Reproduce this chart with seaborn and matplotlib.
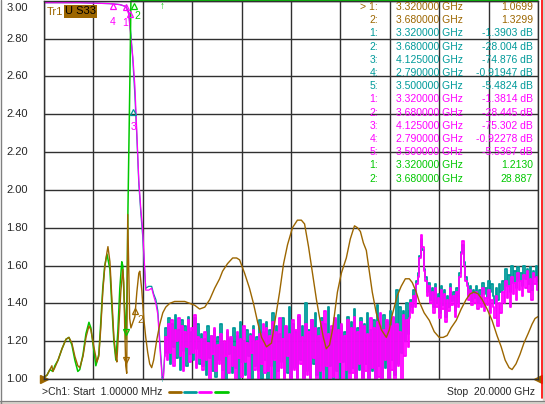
import numpy as np
import matplotlib.pyplot as plt
import seaborn as sns
from matplotlib.lines import Line2D
from matplotlib.patches import Rectangle

# ---- trace data (frequency in GHz, value on the 1.00..3.00 display scale) ----
brown_f = [0.001, 0.12, 0.24, 0.32, 0.36, 0.44, 0.57, 0.73, 0.89, 1.01, 1.13, 1.25, 1.37, 1.45,
           1.58, 1.70, 1.82, 1.90, 2.02, 2.14, 2.22, 2.30, 2.38, 2.46, 2.55, 2.59, 2.67, 2.75,
           2.83, 2.91, 2.95, 3.03, 3.11, 3.19, 3.23, 3.27, 3.31, 3.35, 3.39, 3.43, 3.47, 3.52,
           3.60, 3.68, 3.76, 3.84, 3.88, 3.96, 4.04, 4.12, 4.20, 4.28, 4.36, 4.44, 4.57, 4.69,
           4.81, 4.93, 5.09, 5.29, 5.49, 5.70, 5.90, 6.10, 6.30, 6.51, 6.71, 6.91, 7.11, 7.23,
           7.43, 7.64, 7.80, 7.92, 8.12, 8.32, 8.48, 8.65, 8.81, 9.01, 9.21, 9.37, 9.54, 9.70,
           9.86, 10.06, 10.26, 10.42, 10.55, 10.71, 10.87, 11.03, 11.15, 11.31, 11.43, 11.56,
           11.68, 11.80, 11.88, 12.04, 12.24, 12.40, 12.57, 12.69, 12.81, 12.93, 13.05, 13.17,
           13.29, 13.45, 13.66, 13.86, 13.98, 14.10, 14.30, 14.46, 14.63, 14.79, 14.91, 15.07,
           15.19, 15.39, 15.60, 15.80, 16.00, 16.16, 16.32, 16.48, 16.69, 16.89, 17.09, 17.25,
           17.41, 17.58, 17.74, 17.94, 18.14, 18.34, 18.51, 18.67, 18.83, 18.95, 19.11, 19.27,
           19.43, 19.60, 19.76, 19.88, 20.00]
brown_v = [1.01, 1.02, 1.05, 1.07, 1.04, 1.06, 1.10, 1.16, 1.21, 1.22, 1.19, 1.12, 1.07, 1.06,
           1.12, 1.22, 1.28, 1.26, 1.17, 1.09, 1.12, 1.27, 1.46, 1.59, 1.67, 1.70, 1.62, 1.42,
           1.22, 1.12, 1.09, 1.27, 1.46, 1.58, 1.51, 1.27, 1.07, 1.03, 1.87, 1.60, 1.32, 1.27,
           1.30, 1.33, 1.46, 1.56, 1.57, 1.47, 1.32, 1.22, 1.14, 1.08, 1.06, 1.10, 1.21, 1.29,
           1.35, 1.38, 1.40, 1.41, 1.41, 1.41, 1.40, 1.39, 1.37, 1.38, 1.42, 1.48, 1.53, 1.57,
           1.61, 1.64, 1.64, 1.63, 1.56, 1.48, 1.40, 1.30, 1.22, 1.17, 1.19, 1.32, 1.46, 1.61,
           1.71, 1.80, 1.84, 1.84, 1.82, 1.70, 1.56, 1.42, 1.33, 1.22, 1.16, 1.18,
           1.26, 1.38, 1.46, 1.56, 1.64, 1.74, 1.81, 1.80, 1.78, 1.72, 1.68, 1.57,
           1.46, 1.35, 1.26, 1.22, 1.26, 1.34, 1.44, 1.49, 1.53, 1.53, 1.51, 1.46,
           1.41, 1.35, 1.31, 1.25, 1.22, 1.22, 1.23, 1.27, 1.31, 1.37, 1.42, 1.45,
           1.46, 1.45, 1.42, 1.37, 1.31, 1.23, 1.17, 1.10, 1.06, 1.05, 1.08, 1.13,
           1.19, 1.24, 1.29, 1.32, 1.33]

green_f = [0.001, 0.12, 0.24, 0.36, 0.44, 0.57, 0.73, 0.89, 1.01, 1.13, 1.25, 1.37, 1.45, 1.58,
           1.70, 1.82, 1.90, 2.02, 2.10, 2.22, 2.30, 2.38, 2.46, 2.55, 2.67, 2.75, 2.83, 2.91,
           2.99, 3.07, 3.15, 3.19, 3.27, 3.32, 3.36, 3.40, 3.44, 3.48, 3.52, 3.68, 4.0, 6.0,
           10.0, 15.0, 20.0]
green_v = [1.01, 1.02, 1.05, 1.04, 1.07, 1.10, 1.16, 1.21, 1.22, 1.18, 1.10, 1.04, 1.05, 1.13,
           1.24, 1.30, 1.27, 1.15, 1.07, 1.13, 1.30, 1.48, 1.60, 1.66, 1.58, 1.38, 1.20, 1.10,
           1.25, 1.48, 1.62, 1.60, 1.35, 1.21, 1.45, 1.90, 2.25, 2.60, 3.50, 28.887, 40.0, 60.0,
           80.0, 90.0, 95.0]

# smooth head of the two transmission traces
mag_f = [0.001, 1.45, 2.67, 3.07, 3.31, 3.43, 3.52, 3.60, 3.68, 3.76, 3.84, 3.92, 4.00, 4.08,
         4.12, 4.24, 4.36, 4.44, 4.53, 4.61, 4.69, 4.77, 4.81, 4.89]
mag_v = [2.99, 2.99, 2.985, 2.98, 2.97, 2.93, 2.80, 2.70, 2.55, 2.30, 2.05, 1.90, 1.78, 1.58,
         1.47, 1.47, 1.48, 1.44, 1.40, 1.34, 1.17, 1.03, 0.95, 1.12]
teal_f = [0.001, 1.45, 2.67, 3.07, 3.31, 3.43, 3.52, 3.60, 3.68, 3.76, 3.84, 3.92, 4.00, 4.08,
          4.12, 4.24, 4.36, 4.44, 4.53, 4.61, 4.69, 4.77, 4.81, 4.89]
teal_v = [2.99, 2.99, 2.985, 2.98, 2.97, 2.94, 2.82, 2.68, 2.50, 2.28, 2.03, 1.88, 1.75, 1.56,
          1.48, 1.49, 1.49, 1.45, 1.42, 1.36, 1.20, 1.05, 0.96, 1.14]

# noisy part 4.93..14.75 GHz and 14.79..20 GHz
mag_noise_mid = [1.22, 1.10, 1.29, 1.14, 1.31, 1.07, 1.26, 1.20, 1.32, 1.12, 1.28, 1.04, 1.25, 1.17,
                 1.31, 1.09, 1.27, 1.14, 1.34, 1.06, 1.22, 1.11,
                 1.21, 1.05, 1.25, 1.10, 1.19, 0.99, 1.23, 1.13, 1.27, 1.04, 1.18, 1.08, 1.24, 0.98,
                 1.20, 1.12, 1.26, 1.03, 1.22, 1.07, 1.17, 0.98, 1.25, 1.11, 1.21, 1.01, 1.28, 1.09,
                 1.19, 0.99, 1.23, 1.14, 1.26, 1.05, 1.20, 0.98, 1.24, 1.08, 1.29, 1.03,
                 1.27, 1.04, 1.23, 0.98, 1.30, 1.10, 1.25, 0.99, 1.32, 1.06, 1.21, 0.98, 1.28, 1.12,
                 1.24, 0.98, 1.31, 1.05, 1.26, 0.99, 1.34, 1.08, 1.22, 0.98, 1.29, 1.02, 1.25, 0.98,
                 1.31, 1.11, 1.27, 0.99, 1.23, 1.04, 1.30, 0.98, 1.36, 1.07, 1.24, 0.98, 1.28, 1.01,
                 1.32, 0.99, 1.26, 1.09, 1.29, 0.98, 1.23, 1.05, 1.31, 0.99, 1.27, 1.03, 1.33, 0.98,
                 1.25, 1.08, 1.30, 0.98, 1.28, 1.04, 1.24, 0.99, 1.32, 1.06, 1.27, 0.98, 1.30, 1.01,
                 1.35, 0.98, 1.26, 1.10, 1.31, 0.99, 1.28, 1.05, 1.33, 0.98, 1.29, 1.07, 1.25, 0.99,
                 1.34, 1.12, 1.31, 1.17]
mag_noise_hi = [1.32, 1.40, 1.35, 1.44, 1.38, 1.50, 1.54,
                1.64, 1.76, 1.70, 1.57,
                1.52, 1.44, 1.49, 1.40,
                1.46, 1.35, 1.48, 1.38, 1.43, 1.32, 1.47, 1.37, 1.45, 1.30, 1.42, 1.36, 1.48, 1.39,
                1.44, 1.33, 1.46, 1.38,
                1.54, 1.66, 1.73, 1.60, 1.52,
                1.49, 1.42, 1.47, 1.39, 1.45,
                1.40, 1.46, 1.37, 1.44, 1.38, 1.48, 1.36, 1.43, 1.39, 1.47, 1.35, 1.42,
                1.38, 1.32, 1.44, 1.28, 1.40, 1.35,
                1.46, 1.40, 1.52, 1.43, 1.49, 1.38, 1.54, 1.45, 1.51, 1.42, 1.56, 1.47, 1.52, 1.44,
                1.55, 1.48, 1.57, 1.46, 1.53, 1.42, 1.56, 1.50, 1.54, 1.47]
teal_noise_mid = [1.27, 1.14, 1.32, 1.08, 1.29, 1.17, 1.34, 1.11, 1.26, 1.05, 1.31, 1.15, 1.28, 1.07,
                  1.33, 1.13, 1.25, 1.10, 1.32, 1.16, 1.29, 1.08,
                  1.24, 1.07, 1.21, 1.02, 1.28, 1.11, 1.23, 1.04, 1.26, 1.01, 1.22, 1.10, 1.29, 1.05,
                  1.19, 0.99, 1.25, 1.13, 1.21, 1.03, 1.27, 1.06, 1.23, 1.00, 1.30, 1.09, 1.20, 1.02,
                  1.26, 1.12, 1.24, 0.99, 1.28, 1.07, 1.22, 1.04, 1.31, 1.00, 1.25, 1.10,
                  1.30, 1.00, 1.26, 1.07, 1.35, 0.99, 1.28, 1.04, 1.24, 1.09, 1.32, 0.98, 1.27, 1.03,
                  1.38, 1.00, 1.29, 1.06, 1.25, 0.98, 1.33, 1.10, 1.28, 1.00, 1.40, 1.04, 1.26, 0.98,
                  1.31, 1.08, 1.35, 1.02, 1.27, 0.98, 1.32, 1.05, 1.29, 1.00, 1.38, 1.07, 1.26, 0.98,
                  1.31, 1.04, 1.34, 1.00, 1.28, 1.09, 1.25, 0.98, 1.33, 1.03, 1.30, 1.06, 1.37, 0.98,
                  1.27, 1.05, 1.32, 1.00, 1.29, 1.08, 1.35, 0.98, 1.26, 1.04, 1.31, 1.00, 1.39, 1.07,
                  1.28, 0.98, 1.34, 1.06, 1.30, 1.00, 1.36, 1.10, 1.32, 1.02, 1.47, 1.08, 1.38, 1.14,
                  1.36, 1.20, 1.40, 1.24]
teal_noise_hi = [1.36, 1.42, 1.38, 1.47, 1.41, 1.52, 1.56,
                 1.65, 1.74, 1.68, 1.58,
                 1.54, 1.46, 1.51, 1.42,
                 1.48, 1.38, 1.50, 1.40, 1.45, 1.35, 1.49, 1.39, 1.47, 1.33, 1.44, 1.38, 1.50, 1.41,
                 1.46, 1.36, 1.48, 1.40,
                 1.56, 1.67, 1.71, 1.62, 1.54,
                 1.51, 1.44, 1.49, 1.41, 1.47,
                 1.43, 1.49, 1.40, 1.47, 1.42, 1.51, 1.45, 1.48, 1.43, 1.52, 1.46, 1.50,
                 1.44, 1.40, 1.48, 1.42, 1.50, 1.46,
                 1.52, 1.47, 1.58, 1.49, 1.55, 1.46, 1.60, 1.51, 1.57, 1.48, 1.59, 1.52, 1.56, 1.49,
                 1.60, 1.53, 1.58, 1.50, 1.59, 1.47, 1.57, 1.54, 1.60, 1.52]
noise_mid_span = (4.93, 14.75)
noise_hi_span = (14.79, 20.0)

# ---- marker readout table ----
mk_ids = ["> 1:", "2:", "1:", "2:", "3:", "4:", "5:", "1:", "2:", "3:", "4:", "5:", "1:", "2:"]
mk_freqs = ["3.320000 GHz", "3.680000 GHz", "3.320000 GHz", "3.680000 GHz", "4.125000 GHz",
            "2.790000 GHz", "3.500000 GHz", "3.320000 GHz", "3.680000 GHz", "4.125000 GHz",
            "2.790000 GHz", "3.500000 GHz", "3.320000 GHz", "3.680000 GHz"]
mk_vals = ["1.0699", "1.3299", "-1.3903 dB", "-28.004 dB", "-74.876 dB", "-0.91947 dB",
           "-5.4824 dB", "-1.3814 dB", "-28.445 dB", "-75.302 dB", "-0.92278 dB", "-5.5367 dB",
           "1.2130", "28.887"]
mk_trace = ["brown"] * 2 + ["teal"] * 5 + ["magenta"] * 5 + ["green"] * 2

y_ticks = [3.00, 2.80, 2.60, 2.40, 2.20, 2.00, 1.80, 1.60, 1.40, 1.20, 1.00]
f_start, f_stop = 0.001, 20.0

COLORS = {"brown": "#9c6600", "teal": "#009a9a", "magenta": "#ff00ff", "green": "#00c800"}
W, H = 545, 404

sns.set_style("white")
plt.rcParams['font.family'] = ['Liberation Sans', 'DejaVu Sans']
plt.rcParams['font.size'] = 7.5

fig = plt.figure(figsize=(W / 100, H / 100), dpi=100)
fig.patch.set_facecolor("white")
ax = fig.add_axes([44 / W, 1 - 379 / H, (538 - 44) / W, (379 - 0.8) / H])


def trace(f, v, key, lw=0.9, **kw):
    sns.lineplot(x=np.asarray(f), y=np.asarray(v), ax=ax, color=COLORS[key], lw=lw,
                 estimator=None, sort=False, legend=False, **kw)


def noise_part(head_f, head_v, mid, hi):
    ff = np.concatenate([head_f[-1:], np.linspace(*noise_mid_span, len(mid)),
                         np.linspace(*noise_hi_span, len(hi))])
    vv = np.concatenate([head_v[-1:], mid, hi])
    return ff, vv


tf, tv = noise_part(teal_f, teal_v, teal_noise_mid, teal_noise_hi)
mf, mv = noise_part(mag_f, mag_v, mag_noise_mid, mag_noise_hi)
trace(teal_f, teal_v, "teal")
trace(tf, tv, "teal", lw=1.3, drawstyle="steps-mid")
trace(mag_f, mag_v, "magenta")
trace(mf, mv, "magenta", lw=1.3, drawstyle="steps-mid")
trace(green_f, np.minimum(green_v, 3.0), "green", lw=1.1, clip_on=False)
trace(brown_f, brown_v, "brown", lw=1.0)

# marker symbols on the traces
ax.plot([2.79, 3.32, 3.50], [2.975, 2.965, 2.93], ls="none", marker="^", ms=5, mfc="none",
        mec=COLORS["magenta"], mew=0.9)
ax.plot([3.66], [2.975], ls="none", marker="^", ms=5, mfc="none", mec=COLORS["green"], mew=0.9)
ax.plot([3.62], [2.41], ls="none", marker="^", ms=5, mfc="none", mec=COLORS["teal"], mew=0.9)
ax.plot([3.32], [1.10], ls="none", marker="v", ms=5, mfc="none", mec=COLORS["brown"], mew=0.9)
ax.plot([3.68], [1.36], ls="none", marker="^", ms=5, mfc="none", mec=COLORS["brown"], mew=0.9)
ax.plot([3.32], [1.25], ls="none", marker="v", ms=5, mfc="none", mec=COLORS["green"], mew=0.9)
ax.text(2.79, 2.89, "4", color=COLORS["magenta"], ha="center", va="center")
ax.text(3.30, 2.885, "1", color=COLORS["magenta"], ha="center", va="center")
ax.text(3.80, 2.92, "2", color=COLORS["green"], ha="center", va="center")
ax.text(3.62, 2.33, "3", color=COLORS["magenta"], ha="center", va="center")
ax.text(3.90, 1.31, "2", color=COLORS["brown"], ha="center", va="center")
ax.text(4.80, 2.975, "\u2191", color=COLORS["green"], ha="center", va="center", fontsize=7)
ax.text(4.80, 1.0, "\u2191", color=COLORS["teal"], ha="center", va="center", fontsize=7)

# reference position markers
ax.plot([f_start], [1.0], marker=">", ms=6, color=COLORS["brown"], clip_on=False)
ax.plot([f_stop], [1.0], marker="<", ms=6, color=COLORS["brown"], clip_on=False)

ax.set_xlim(f_start, f_stop)
ax.set_ylim(1.0, 3.0)
ax.set_xticks(np.linspace(f_start, f_stop, 11))
ax.set_yticks(y_ticks)
ax.grid(True, color="#303030", lw=1.0)
ax.tick_params(length=0, labelleft=False, labelbottom=False)
ax.set_xlabel("")
ax.set_ylabel("")
for s in ax.spines.values():
    s.set_color("#303030")
    s.set_linewidth(1.0)

# y tick labels
ylab_tf = ax.get_yaxis_transform()
for t in y_ticks:
    if t == 3.00:
        ax.text(-0.033, t - 0.04, f"{t:.2f}", transform=ylab_tf, ha="right", va="center", fontsize=8)
    else:
        ax.text(-0.033, t, f"{t:.2f}", transform=ylab_tf, ha="right", va="center", fontsize=8)

# trace label
fig.text(47 / W, 1 - 12 / H, "Tr1", color=COLORS["brown"], ha="left", va="center", fontsize=8)
fig.text(65 / W, 1 - 11.5 / H, "U S33", color="black", ha="left", va="center", fontsize=8,
         bbox=dict(boxstyle="square,pad=0.12", fc=COLORS["brown"], ec="none"))

# marker readout
for k in range(len(mk_ids)):
    y = 1 - (7 + 13.2 * k) / H
    c = COLORS[mk_trace[k]]
    fig.text(378 / W, y, mk_ids[k], color=c, ha="right", va="center")
    fig.text(396 / W, y, mk_freqs[k], color=c, ha="left", va="center")
    fig.text(533 / W, y, mk_vals[k], color=c, ha="right", va="center")

# footer
fig.text(42 / W, 1 - 392 / H, ">Ch1: Start  1.00000 MHz", ha="left", va="center")
fig.text(535 / W, 1 - 392 / H, "Stop  20.0000 GHz", ha="right", va="center")
for (x0, x1), key in zip([(169, 181), (184, 196), (199, 211), (215, 228)],
                         ["brown", "teal", "magenta", "green"]):
    fig.add_artist(Line2D([x0 / W, x1 / W], [1 - 392 / H] * 2, color=COLORS[key], lw=2))

# window frame
fig.add_artist(Line2D([541.5 / W] * 2, [1 - 398 / H, 1], color="#ff0000", lw=1.2))
fig.add_artist(Rectangle((543 / W, 0), 2 / W, 1, color="#d4d0c8"))
fig.add_artist(Rectangle((0, 0), 1, 3 / H, color="#d4d0c8"))
fig.add_artist(Line2D([0, 1], [3 / H] * 2, color="#808080", lw=0.8))
fig.add_artist(Line2D([1 / W] * 2, [0, 1], color="#808080", lw=1.0))

fig.savefig("out.png", dpi=100)
